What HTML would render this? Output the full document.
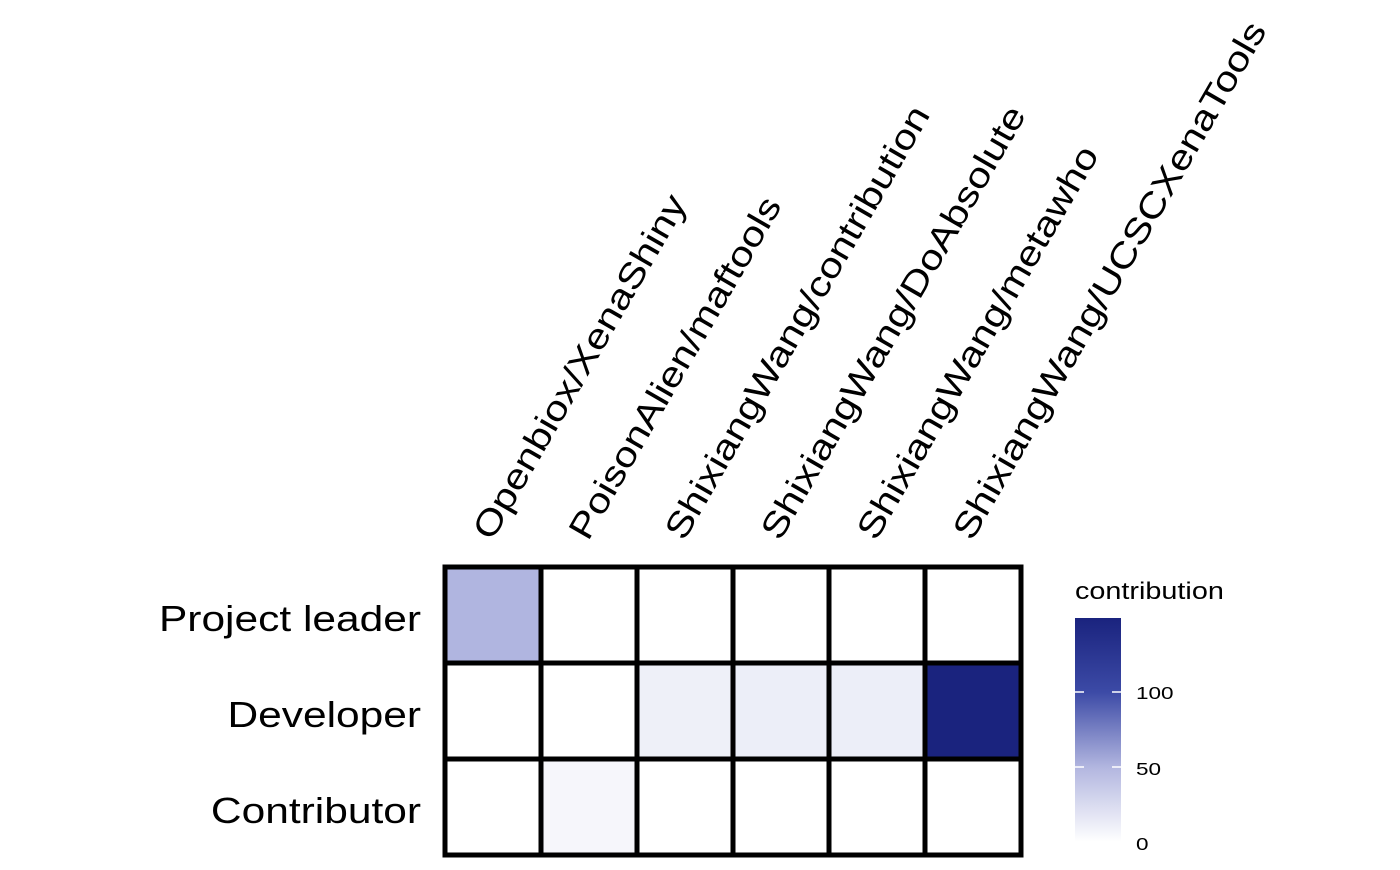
<!DOCTYPE html>
<html><head><style>body{margin:0;background:#fff}</style></head><body>
<svg width="1400" height="865" xmlns="http://www.w3.org/2000/svg" font-family="Liberation Sans, sans-serif">
<defs><linearGradient id="g" x1="0" y1="1" x2="0" y2="0">
<stop offset="0" stop-color="#ffffff"/><stop offset="0.33" stop-color="#b3b7e0"/><stop offset="0.67" stop-color="#3c4aa6"/><stop offset="1" stop-color="#1a237e"/></linearGradient></defs>
<rect x="445" y="567" width="96" height="96" fill="#b0b5e0"/>
<rect x="637" y="663" width="96" height="96" fill="#eef0f8"/>
<rect x="733" y="663" width="96" height="96" fill="#eceef8"/>
<rect x="829" y="663" width="96" height="96" fill="#eceef8"/>
<rect x="925" y="663" width="96" height="96" fill="#1a237e"/>
<rect x="541" y="759" width="96" height="96" fill="#f6f6fb"/>
<g stroke="#000" stroke-width="5" fill="none">
<rect x="445" y="567" width="576" height="288"/>
<path d="M541 567V855M637 567V855M733 567V855M829 567V855M925 567V855M445 663H1021M445 759H1021"/>
</g>
<g font-size="36" text-anchor="end" fill="#000">
<text transform="translate(421,631) scale(1.18,1)">Project leader</text>
<text transform="translate(421,727) scale(1.18,1)">Developer</text>
<text transform="translate(421,823) scale(1.18,1)">Contributor</text>
</g>
<g font-size="35" fill="#000">
<text transform="translate(492,542) rotate(-60) scale(1.19,1)">Openbiox/XenaShiny</text>
<text transform="translate(588,542) rotate(-60) scale(1.19,1)">PoisonAlien/maftools</text>
<text transform="translate(684,542) rotate(-60) scale(1.19,1)">ShixiangWang/contribution</text>
<text transform="translate(780,542) rotate(-60) scale(1.19,1)">ShixiangWang/DoAbsolute</text>
<text transform="translate(876,542) rotate(-60) scale(1.19,1)">ShixiangWang/metawho</text>
<text transform="translate(972,542) rotate(-60) scale(1.19,1)">ShixiangWang/UCSCXenaTools</text>
</g>
<text transform="translate(1075,599) scale(1.2,1)" font-size="24">contribution</text>
<rect x="1075" y="618" width="46" height="224" fill="url(#g)"/>
<g stroke="#fff" stroke-width="1.5">
<path d="M1075 692h9M1112 692h9M1075 767h9M1112 767h9"/>
</g>
<g font-size="18">
<text transform="translate(1136,699) scale(1.25,1)">100</text>
<text transform="translate(1136,775) scale(1.25,1)">50</text>
<text transform="translate(1136,850) scale(1.25,1)">0</text>
</g>
</svg>
</body></html>
